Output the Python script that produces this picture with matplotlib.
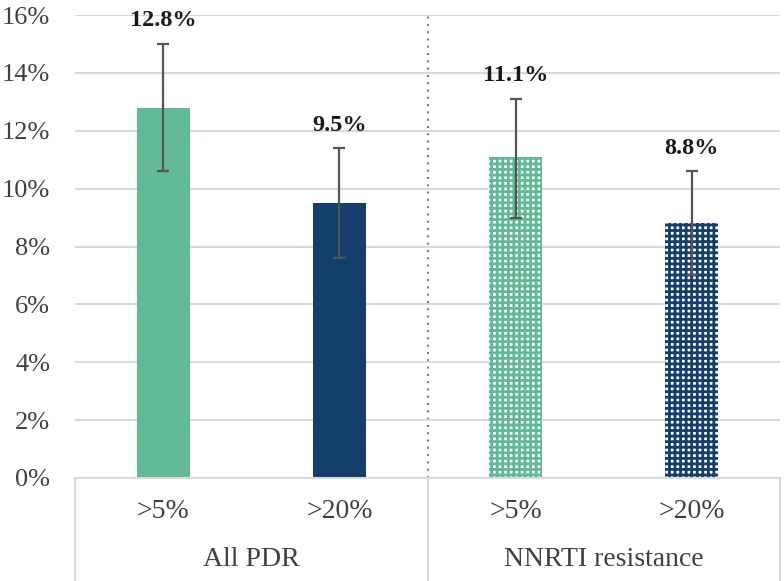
import numpy as np
import matplotlib.pyplot as plt
from matplotlib.ticker import PercentFormatter

################################## DATA ##################################

groups = ['All PDR', 'NNRTI resistance']
thresholds = ['>5%', '>20%', '>5%', '>20%']
values = [12.8, 9.5, 11.1, 8.8]
err_low = [10.6, 7.6, 9.0, 7.0]
err_high = [15.0, 11.4, 13.1, 10.6]
labels = ['12.8%', '9.5%', '11.1%', '8.8%']

green = '#62b995'
navy = '#143e6b'
colors = [green, navy, green, navy]
hatched = [False, False, True, True]

################################## PLOT ##################################

plt.rcParams['font.family'] = 'Liberation Serif'
plt.rcParams['hatch.linewidth'] = 2.0

fig = plt.figure(figsize=(7.84, 5.81), dpi=100)
ax = fig.add_axes([75/784, 1 - 478/581, 705/784, 463/581])

x = np.arange(len(values))
for i in range(len(values)):
    if hatched[i]:
        # green/navy lattice with white holes
        ax.bar(x[i], values[i], width=0.3, color='white', edgecolor=colors[i],
               hatch='+++', linewidth=0, zorder=2)
    else:
        ax.bar(x[i], values[i], width=0.3, color=colors[i], linewidth=0, zorder=2)

yerr = [np.array(values) - np.array(err_low), np.array(err_high) - np.array(values)]
ax.errorbar(x, values, yerr=yerr, fmt='none', ecolor='#555555', elinewidth=1.6,
            capsize=4, capthick=1.6, zorder=3)

for i in range(len(values)):
    ax.annotate(labels[i], (x[i], err_high[i]), xytext=(0, 9),
                textcoords='offset points', ha='center', va='bottom',
                fontsize=17.5, fontweight='bold', color='#1a1a1a')

ax.set_xlim(-0.5, 3.5)
ax.set_ylim(0, 16)
ax.set_yticks(np.arange(0, 17, 2))
ax.yaxis.set_major_formatter(PercentFormatter(decimals=0))
ax.tick_params(axis='y', length=0, labelsize=19, labelcolor='#404040', pad=18)
ax.set_xticks([])
ax.grid(axis='y', color='#d9d9d9', linewidth=1.5, zorder=0)
for s in ['top', 'right', 'left']:
    ax.spines[s].set_visible(False)
ax.spines['bottom'].set_color('#d9d9d9')
ax.spines['bottom'].set_linewidth(1.5)

# dotted divider between the two groups
ax.axvline(1.5, color='#808080', linestyle=(0, (1, 2.5)), linewidth=1.5, zorder=1)

# two-level category axis below the plot
depth = -103/463 * 16
for xv in [-0.5, 1.5, 3.5]:
    ax.plot([xv, xv], [0, depth], color='#d9d9d9', linewidth=1.5, clip_on=False)
for i in range(len(thresholds)):
    ax.text(x[i], -1.17, thresholds[i], ha='center', va='center', fontsize=20,
            color='#404040')
for j, g in enumerate(groups):
    ax.text(0.5 + 2*j, -2.83, g, ha='center', va='center', fontsize=20,
            color='#404040')

plt.savefig('out.png', dpi=100)
